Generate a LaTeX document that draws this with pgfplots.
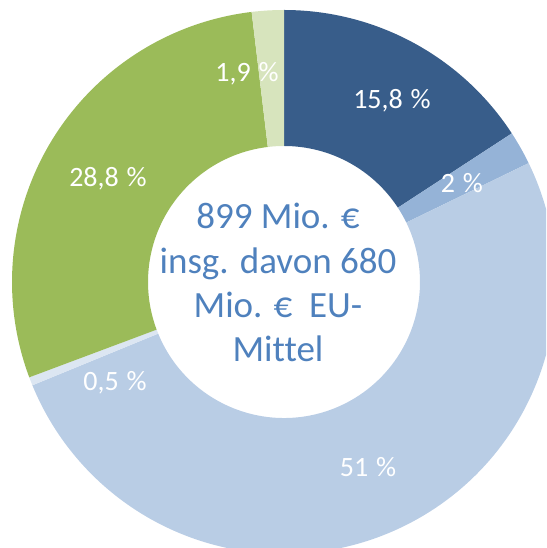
\documentclass[border=0pt]{standalone}
\usepackage{pgfplots}
\pgfplotsset{compat=1.18}
\usepackage{pgfplotstable}
\usepackage{fontspec}
\setmainfont{Carlito}[Ligatures=NoCommon]
\definecolor{c1}{HTML}{385D8A}
\definecolor{c2}{HTML}{95B3D7}
\definecolor{c3}{HTML}{B9CDE5}
\definecolor{c4}{HTML}{DCE6F2}
\definecolor{c5}{HTML}{9BBB59}
\definecolor{c6}{HTML}{D7E4BD}
\definecolor{ctext}{HTML}{4F81BD}
\pgfplotstableread{
value col label lx ly
15.8 c1 {15,8} 392 439
2    c2 {2}    462 355
51   c3 {51}   368 71
0.5  c4 {0,5}  115 157
28.8 c5 {28,8} 108 361
1.9  c6 {1,9}  247 466
}\data
\begin{document}
\begin{tikzpicture}
\begin{axis}[name=ax, hide axis, x=1pt, y=1pt, scale only axis,
  xmin=0, xmax=546, ymin=0, ymax=548, clip=true]
\pgfplotstablegetrowsof{\data}
\pgfmathtruncatemacro\N{\pgfplotsretval-1}
\def\ang{90}
\pgfplotsforeachungrouped \i in {0,...,\N}{%
  \pgfplotstablegetelem{\i}{value}\of\data \let\v\pgfplotsretval
  \pgfplotstablegetelem{\i}{col}\of\data \let\c\pgfplotsretval
  \pgfmathsetmacro\angb{\ang-3.6*\v}
  \edef\cmd{\noexpand\fill[\c] (axis cs:284,266) ++(\ang:272pt)
    arc[start angle=\ang, end angle=\angb, radius=272pt]
    -- ++(\angb+180:136pt)
    arc[start angle=\angb, end angle=\ang, radius=136pt] -- cycle;}%
  \cmd
  \global\let\ang\angb
}
\pgfplotsforeachungrouped \i in {0,...,\N}{%
  \pgfplotstablegetelem{\i}{label}\of\data \let\lab\pgfplotsretval
  \pgfplotstablegetelem{\i}{lx}\of\data \let\lx\pgfplotsretval
  \pgfplotstablegetelem{\i}{ly}\of\data \let\ly\pgfplotsretval
  \edef\cmd{\noexpand\node[anchor=base, text=white, inner sep=0pt,
    font=\noexpand\fontsize{28}{33}\noexpand\selectfont]
    at (axis cs:\lx,\ly) {\lab\noexpand\hspace{0.28em}\noexpand\%};}%
  \cmd
}
\begin{scope}[every node/.style={anchor=base, text=ctext, inner sep=0pt,
    font=\fontsize{37}{44}\selectfont}]
\node at (axis cs:278,319) {899 Mio. €};
\node at (axis cs:278,274) {insg. davon 680};
\node at (axis cs:278,230) {Mio. €\ \ EU-};
\node at (axis cs:278,186) {Mittel};
\end{scope}
\end{axis}
\pgfresetboundingbox
\path (ax.south west) rectangle (ax.north east);
\end{tikzpicture}
\end{document}
